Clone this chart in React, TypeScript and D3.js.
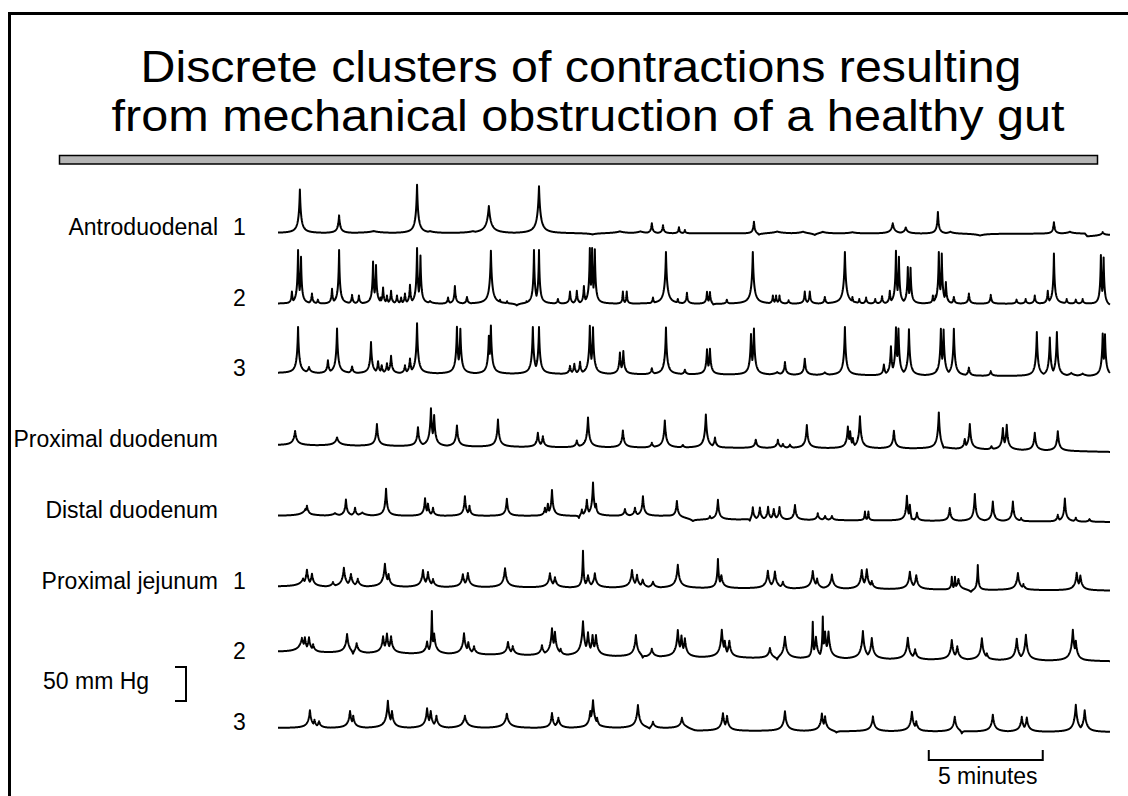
import React from "react";
import * as d3 from "d3";

const TITLE_LINES = [
  "Discrete clusters of contractions resulting",
  "from mechanical obstruction of a healthy gut",
];

const TRACK_LABELS = ["Antroduodenal", "", "", "Proximal duodenum", "Distal duodenum", "Proximal jejunum", "", ""];
const TRACK_NUMBERS = ["1", "2", "3", "", "", "1", "2", "3"];

const RECORD_MINUTES = 36.5;
const SCALE_BAR_MINUTES = 5;
const SCALE_BAR_START = 28.55; // minute on the record where the bar starts
const PRESSURE_BAR_MMHG = 50;

// contraction events: [minute, mmHg, decay in min (optional)]
const antroduodenal1 = [
  [0.96, 64], [2.68, 26], [4.2, 3, 0.6], [6.1, 71], [6.67, 3, 0.5], [8.55, 3, 0.6],
  [9.25, 40, 0.18], [11.45, 69, 0.13], [13.8, -2, 0.4], [15.0, 3, 0.5], [15.9, 3, 0.4],
  [16.4, 15, 0.08], [16.89, 12, 0.08], [17.59, 9, 0.06], [17.85, 5, 0.06],
  [20.88, 18, 0.08], [21.1, -3, 0.2], [21.9, 3, 0.5], [23.03, 3, 0.4], [23.55, -3, 0.25],
  [23.9, 3, 0.4], [25.2, 2, 0.4], [26.97, 15, 0.15], [27.54, 9, 0.15], [28.95, 32, 0.08],
  [29.5, 3, 0.3], [30.8, -3, 0.5], [34.04, 17, 0.08], [34.74, 3, 0.3], [36.18, 5, 0.15],
];

const antroduodenal2 = [
  [0.61, 18], [0.88, 79], [1.01, 69], [1.49, 15], [1.75, 6], [2.37, 22], [2.68, 79],
  [3.25, 13], [3.55, 12], [4.17, 62], [4.3, 57], [4.5, 9], [4.61, 24], [4.78, 12],
  [4.96, 19], [5.22, 12], [5.4, 9], [5.57, 15], [5.79, 28], [6.1, 82], [6.25, 71],
  [6.67, 4, 0.2], [7.46, 9], [7.76, 26], [8.29, 10], [9.34, 78, 0.1], [9.74, 6],
  [10.05, 4], [10.48, -3, 0.2], [10.9, 4], [11.23, 79], [11.45, 79], [12.28, 7],
  [12.81, 18], [13.11, 19], [13.42, 26], [13.68, 82], [13.78, 82], [13.9, 80],
  [15.13, 18, 0.05], [15.3, 18, 0.05], [16.45, 9], [17.02, 76, 0.1], [17.54, 7],
  [17.94, 16], [18.82, 18], [18.95, 18], [19.1, -3, 0.15], [19.69, 6], [20.83, 76, 0.1],
  [21.71, 12], [21.85, 12], [22.0, 12], [22.4, 5], [23.11, 18], [23.33, 18], [23.99, 10],
  [24.87, 76, 0.1], [25.2, 10], [25.5, 7], [25.8, 9], [26.2, 7], [26.5, 11], [26.84, 19],
  [27.11, 78], [27.24, 69], [27.63, 54], [27.75, 53], [28.73, 12], [28.85, 12],
  [28.99, 76], [29.12, 74], [29.3, 32], [29.65, 10], [30.31, 15], [31.27, 13],
  [32.4, 6], [32.8, 7], [33.2, 12], [33.77, 19], [34.04, 74], [34.6, 7], [35.0, 6],
  [35.3, 7], [36.1, 74], [36.22, 71],
];

const antroduodenal3 = [
  [0.88, 68], [1.36, 9, 0.15], [2.19, 19], [2.59, 66], [3.25, 10], [4.08, 46],
  [4.39, 18], [4.55, 12], [4.78, 15], [4.96, 26], [5.57, 12], [5.79, 22], [6.1, 74],
  [7.85, 69], [8.0, 66], [9.25, 56], [9.34, 71], [11.18, 69], [11.45, 69], [12.81, 12],
  [13.0, 15], [13.25, 18], [13.68, 71], [13.82, 69], [15.0, 32], [15.15, 34],
  [16.4, 9], [17.02, 69], [17.85, 7], [18.82, 37], [18.95, 38], [20.75, 60], [20.88, 68],
  [21.9, 4, 0.3], [22.24, 19], [23.11, 24], [23.99, 4, 0.2], [24.87, 71], [26.58, 16],
  [26.89, 43], [27.11, 71], [27.22, 69], [27.68, 68], [28.9, 9], [29.08, 69], [29.2, 68],
  [29.65, 69], [30.31, 12], [31.27, 7], [33.29, 65], [33.86, 57], [34.17, 65],
  [34.8, 5, 0.3], [35.3, 4, 0.3], [36.18, 63], [36.28, 62],
];

const proximalDuodenum = [
  [0.75, 21, 0.15], [2.59, 12, 0.2], [4.34, 32], [6.14, 28], [6.71, 56], [6.85, 46],
  [7.85, 31], [9.65, 40], [11.4, 21], [11.62, 16], [13.11, 10], [13.6, 44], [15.13, 25],
  [16.4, 7], [16.97, 40], [17.76, 4], [18.77, 49], [19.17, 15], [20.96, 12], [21.93, 12],
  [22.15, 6], [22.46, 5], [23.2, 34], [25.0, 32], [25.1, 25], [25.22, 15], [25.53, 47],
  [27.02, 26], [28.85, 5], [28.99, 54], [29.2, -5, 0.15], [30.13, 15], [30.35, 37],
  [31.3, 5], [31.8, 32], [31.97, 37], [33.2, 26], [34.21, 29],
];

const distalDuodenum = [
  [1.2, 10, 0.3], [1.27, 15, 0.15], [2.5, 4, 0.3], [2.98, 24], [3.38, 12], [3.7, 5, 0.3],
  [4.74, 40], [6.45, 26], [6.58, 18], [6.8, 12], [8.2, 29], [8.4, 15], [10.04, 25],
  [11.71, 12], [11.84, 18], [12.02, 38], [13.2, -5, 0.08], [13.33, 10], [13.55, 24],
  [13.82, 49], [13.95, 18], [15.22, 10], [15.66, 12], [16.01, 29], [17.5, 24],
  [18.2, -4, 0.3], [18.95, 5], [19.3, 29], [20.7, -5, 0.1], [20.83, 19], [21.14, 18],
  [21.5, 19], [21.75, 16], [22.0, 19], [22.68, 22], [23.68, 10], [24.0, 6], [24.3, 6],
  [25.75, 13, 0.05], [25.9, 13, 0.05], [27.59, 37], [27.72, 25], [27.8, -5, 0.1],
  [28.03, 12], [29.47, 19], [30.57, 40], [31.36, 29], [32.24, 29], [32.6, 5],
  [34.21, 10], [34.52, 34], [35.0, 6], [35.6, 4],
];

const proximalJejunum1 = [
  [1.1, 12, 0.3], [1.27, 25], [1.49, 19], [2.41, 7], [2.89, 28], [3.2, 19], [3.5, 12],
  [4.69, 34], [4.85, 19], [6.36, 25], [6.58, 22], [6.8, 12], [8.11, 19], [8.33, 21],
  [9.96, 28], [11.93, 21], [12.15, 15], [13.38, 54, 0.06], [13.6, 18], [13.9, 21],
  [15.53, 26], [15.75, 19], [16.0, 12], [16.45, 9], [17.54, 34], [19.3, 43, 0.08],
  [19.45, 19], [21.49, 26], [21.8, 25], [22.15, 10], [23.46, 26], [23.65, 15],
  [24.3, 21], [25.61, 28], [25.83, 29], [26.05, 12], [27.72, 26], [28.0, 21],
  [29.56, 19, 0.06], [29.7, 19, 0.06], [29.85, 16], [30.4, -4, 0.2], [30.7, 37, 0.06],
  [32.46, 25], [32.7, 9], [35.04, 26], [35.2, 22],
];

const proximalJejunum2 = [
  [1.05, 21, 0.25], [1.18, 22], [1.36, 22], [1.54, 12], [3.03, 28], [3.29, -5, 0.1],
  [3.45, 15], [4.61, 25], [4.78, 29], [4.96, 25], [6.54, 18], [6.75, 63, 0.06],
  [6.85, 30], [8.16, 31], [8.35, 18], [8.6, 12], [10.09, 19], [10.3, 13], [11.58, 15],
  [12.02, 40], [12.15, 35], [12.4, 10], [13.38, 51], [13.6, 35], [13.8, 31], [13.95, 31],
  [15.7, 32], [16.0, -5, 0.1], [16.4, 12], [17.54, 40], [17.7, 32], [17.85, 28],
  [19.47, 41], [19.6, 25], [19.8, 25], [21.58, 15], [21.9, -5, 0.1], [22.24, 32],
  [23.46, 54, 0.06], [23.6, 32], [23.9, 62, 0.06], [24.0, 40], [24.15, 40], [25.66, 41],
  [26.05, 31], [27.63, 32], [27.95, 15], [29.56, 29], [29.8, 20], [30.88, 32], [31.1, 10],
  [32.41, 32], [32.81, 38], [34.87, 46], [35.0, 30],
];

const proximalJejunum3 = [
  [1.4, 26], [1.6, 12], [1.8, 10], [3.16, 25], [3.3, 18], [4.82, 40], [5.0, 25],
  [6.54, 29], [6.7, 25], [6.95, 18], [8.2, 18, 0.2], [10.04, 21, 0.2], [12.02, 22, 0.12],
  [12.3, 15], [13.7, 25], [13.82, 41], [14.0, 15], [15.79, 34], [16.3, -3, 0.15],
  [16.45, 10], [17.72, 15], [19.52, 26], [19.7, 22], [22.24, 29], [23.86, 26], [24.0, 22],
  [24.5, -3, 0.2], [26.1, 22], [27.81, 29], [28.0, 15], [29.69, 22], [30.0, -5, 0.1],
  [31.36, 25], [32.63, 22], [32.85, 21], [35.0, 40], [35.39, 32],
];

// slow baseline drift of each tracing: [minute, mmHg]
const DRIFTS = [
  [[0, 0], [35.4, -1], [35.5, -5], [36.0, -4], [36.5, -3]],
  [[0, 0], [35.5, 0], [36.5, -4]],
  [[0, 2], [18, 0], [36.5, -3]],
  [[0, 0], [12, -3], [20, -4], [29, -5], [36.5, -10]],
  [[0, 0], [17, 0], [18.5, -5], [36.5, -9]],
  [[0, 0], [18, -2], [36.5, -6]],
  [[0, 8], [18, 0], [36.5, -6]],
  [[0, 0], [17.9, 0], [18.3, -4], [36.5, -6]],
];

const TRACKS = [
  antroduodenal1, antroduodenal2, antroduodenal3, proximalDuodenum,
  distalDuodenum, proximalJejunum1, proximalJejunum2, proximalJejunum3,
];
const TRACK_DECAY = [0.1, 0.07, 0.09, 0.11, 0.1, 0.15, 0.15, 0.15];

const FONT = "'Liberation Sans', Arial, Helvetica, sans-serif";

const buildTrace = (events: number[][], decay: number, drift: number[][]) => {
  const base = d3.scaleLinear()
    .domain(drift.map(d => d[0]))
    .range(drift.map(d => d[1]))
    .clamp(true);
  const times = d3.range(0, RECORD_MINUTES + 0.001, 0.01)
    .concat(events.map(e => e[0]))
    .sort((a, b) => a - b);
  return times.map(t => {
    let up = 0;
    let down = 0;
    events.forEach(e => {
      const tau = e[2] || decay;
      const k = 1 / Math.pow(1 + Math.abs(t - e[0]) / tau, 2);
      if (e[1] >= 0) up = Math.max(up, e[1] * k);
      else down += e[1] * k;
    });
    return { t, p: base(t) + up + down };
  });
};

const App = () => {
  const width = 1128;
  const height = 796;

  const x = d3.scaleLinear().domain([0, RECORD_MINUTES]).range([278, 1110]);
  const h = d3.scaleLinear().domain([0, PRESSURE_BAR_MMHG]).range([0, 34]);
  const y0 = d3.scalePoint<number>().domain(d3.range(TRACKS.length)).range([233, 728]);

  const traces = TRACKS.map((ev, i) => {
    const pts = buildTrace(ev, TRACK_DECAY[i], DRIFTS[i]);
    const base = y0(i) as number;
    const line = d3.line<{ t: number; p: number }>()
      .x(d => x(d.t))
      .y(d => base - h(d.p));
    return line(pts) as string;
  });

  const barX0 = x(SCALE_BAR_START);
  const barX1 = x(SCALE_BAR_START + SCALE_BAR_MINUTES);
  const brTop = 667;
  const brBot = brTop + h(PRESSURE_BAR_MMHG);
  const labelSize = 23;

  return (
    <svg width={width} height={height} style={{ position: "absolute", left: 0, top: 0, background: "#fff" }}>
      <rect x={0} y={0} width={width} height={height} fill="#fff" />
      <rect x={9.5} y={13.5} width={1300} height={1000} fill="none" stroke="#000" strokeWidth={3} />

      {TITLE_LINES.map((s, i) => (
        <text key={i} x={i === 0 ? 581 : 588} y={i === 0 ? 82 : 131} textAnchor="middle"
          fontFamily={FONT} fontSize={43.5} textLength={i === 0 ? 881 : 953}
          lengthAdjust="spacingAndGlyphs" fill="#000">{s}</text>
      ))}

      <rect x={59.5} y={155.5} width={1038} height={8.5} fill="#b5b5b5" stroke="#000" strokeWidth={1.5} />

      {TRACKS.map((_, i) => (
        <g key={i} fontFamily={FONT} fontSize={labelSize} fill="#000">
          {TRACK_LABELS[i] && <text x={218} y={(y0(i) as number) + 2} textAnchor="end">{TRACK_LABELS[i]}</text>}
          {TRACK_NUMBERS[i] && <text x={233} y={(y0(i) as number) + 2}>{TRACK_NUMBERS[i]}</text>}
        </g>
      ))}

      {traces.map((d, i) => (
        <path key={i} d={d} fill="none" stroke="#000" strokeWidth={2} strokeLinejoin="round" />
      ))}

      <path d={`M175,${brTop}H186V${brBot}H175`} fill="none" stroke="#000" strokeWidth={2} />
      <text x={43} y={689} fontFamily={FONT} fontSize={labelSize} fill="#000">{PRESSURE_BAR_MMHG} mm Hg</text>

      <path d={`M${barX0},750V760H${barX1}V750`} fill="none" stroke="#000" strokeWidth={2} />
      <text x={(barX0 + barX1) / 2 + 2} y={784} textAnchor="middle" fontFamily={FONT} fontSize={labelSize} fill="#000">
        {SCALE_BAR_MINUTES} minutes
      </text>
    </svg>
  );
};

export default App;
